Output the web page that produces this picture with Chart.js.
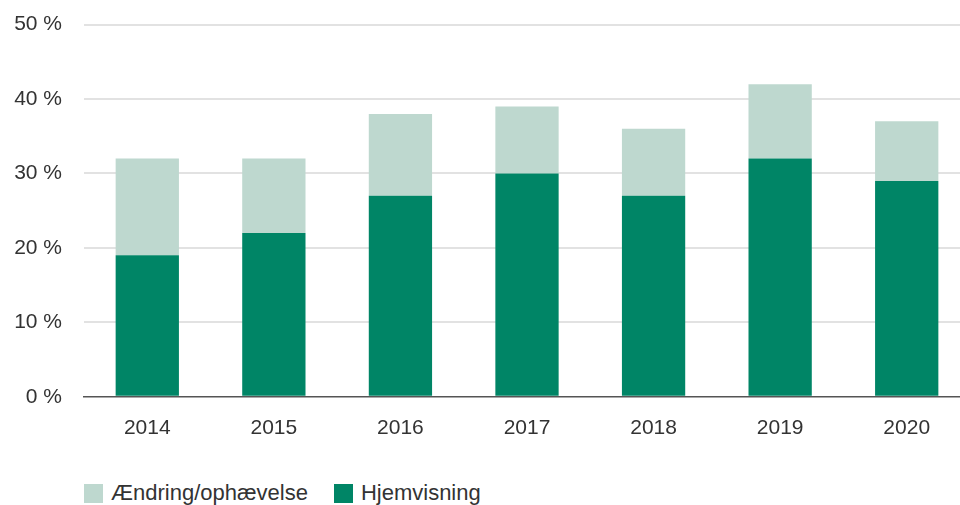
<!DOCTYPE html>
<html>
<head>
<meta charset="utf-8">
<script src="https://cdn.jsdelivr.net/npm/chart.js@4"></script>
<style>
    html, body { margin: 0; padding: 0; background: #fff; overflow: hidden; }
    #wrap { position: relative; width: 970px; height: 505px; }
    #chart-box { position: absolute; left: 0; top: -10px; width: 970px; height: 470px; }
    #legend { position: absolute; left: 84px; top: 480px; display: flex; font-family: "Liberation Sans", Arial, sans-serif; font-size: 22px; color: #333; }
    .item { display: flex; align-items: center; margin-right: 26px; }
    .swatch { width: 19px; height: 19px; margin-right: 8px; }
</style>
</head>
<body>
<div id="wrap">
    <div id="chart-box"><canvas id="chart"></canvas></div>
    <div id="legend"></div>
</div>
<script>
const years = ['2014', '2015', '2016', '2017', '2018', '2019', '2020'];
const hjemvisning = [19, 22, 27, 30, 27, 32, 29];
const aendring = [13, 10, 11, 9, 9, 10, 8];
const seriesNames = ['Hjemvisning', 'Ændring/ophævelse'];
const seriesColors = ['#008566', '#bed8cf'];
const yTicks = [0, 10, 20, 30, 40, 50];

const fontFamily = '"Liberation Sans", Arial, sans-serif';

const chart = new Chart(document.getElementById('chart'), {
    type: 'bar',
    data: {
        labels: years,
        datasets: [
            {
                label: seriesNames[0],
                data: hjemvisning,
                backgroundColor: seriesColors[0],
                categoryPercentage: 0.5,
                barPercentage: 1
            },
            {
                label: seriesNames[1],
                data: aendring,
                backgroundColor: seriesColors[1],
                categoryPercentage: 0.5,
                barPercentage: 1
            }
        ]
    },
    options: {
        responsive: true,
        maintainAspectRatio: false,
        animation: false,
        layout: { padding: { top: 4, right: 0, bottom: 0, left: 0 } },
        plugins: {
            legend: { display: false },
            tooltip: { enabled: false }
        },
        scales: {
            x: {
                stacked: true,
                grid: { display: false, drawTicks: false },
                border: { color: '#555', width: 1.5 },
                ticks: {
                    color: '#333',
                    padding: 19,
                    font: { family: fontFamily, size: 21 }
                }
            },
            y: {
                stacked: true,
                min: 0,
                max: 50,
                afterFit: (scale) => { scale.width = 84; },
                afterBuildTicks: (scale) => { scale.ticks = yTicks.map((v) => ({ value: v })); },
                grid: {
                    color: (ctx) => ctx.tick && ctx.tick.value === 0 ? 'rgba(0,0,0,0)' : '#e2e2e2',
                    lineWidth: 2,
                    drawTicks: false
                },
                border: { display: false },
                ticks: {
                    color: '#333',
                    padding: 22,
                    font: { family: fontFamily, size: 21 },
                    callback: (value) => value + ' %'
                }
            }
        }
    }
});

const legendEl = document.getElementById('legend');
legendEl.innerHTML = [1, 0].map((i) =>
    `<div class="item"><span class="swatch" style="background:${seriesColors[i]}"></span>${seriesNames[i]}</div>`
).join('');
</script>
</body>
</html>
